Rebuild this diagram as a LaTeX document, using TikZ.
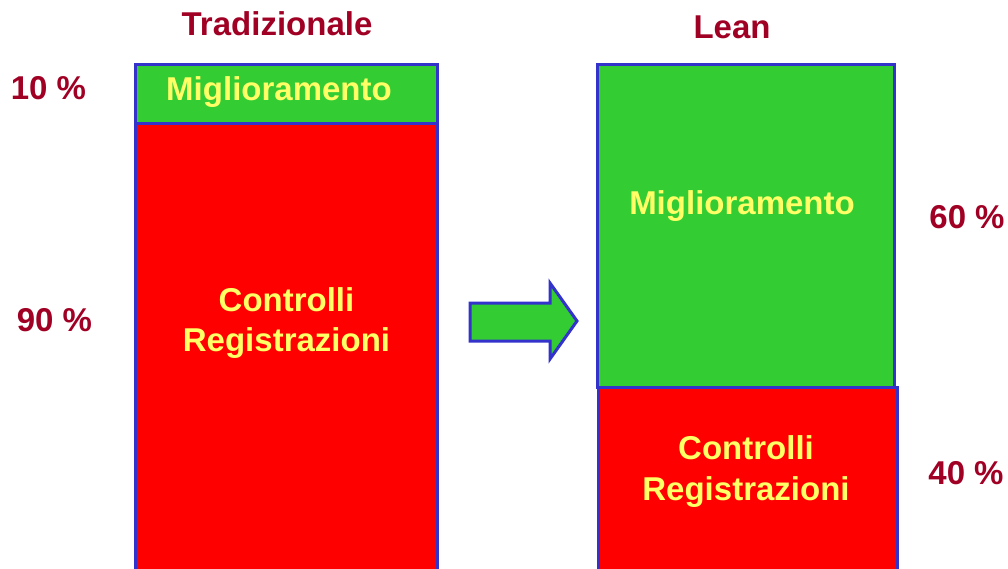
\documentclass[tikz,border=0pt]{standalone}
\usepackage{fontspec}
\setmainfont{Liberation Sans}
\definecolor{boxgreen}{HTML}{33CC33}
\definecolor{boxred}{HTML}{FF0000}
\definecolor{edgeblue}{HTML}{3333CC}
\definecolor{txtyellow}{HTML}{FFFF66}
\definecolor{darkred}{HTML}{A00024}
\begin{document}
\begin{tikzpicture}[x=1pt,y=-1pt,
  box/.style={draw=edgeblue,line width=3pt,inner sep=0pt,anchor=north west},
  lbl/.style={font=\fontsize{33}{40}\bfseries\selectfont,text=txtyellow,anchor=base,inner sep=0pt},
  pct/.style={font=\fontsize{33}{40}\bfseries\selectfont,text=darkred,anchor=base,inner sep=0pt},
  bigarrow/.style={draw=edgeblue,fill=boxgreen,line width=3pt,line join=miter}]
\useasboundingbox (0,0) rectangle (1008,568);
\clip (0,0) rectangle (1008,568);
% left column
\node[box,fill=boxred,minimum width=302pt,minimum height=480pt] (tred) at (134,122) {};
\node[box,fill=boxgreen,minimum width=302pt,minimum height=59pt] (tgreen) at (134,63) {};
% right column
\node[box,fill=boxred,minimum width=299pt,minimum height=220pt] (lred) at (597,386) {};
\node[box,fill=boxgreen,minimum width=297pt,minimum height=323pt] (lgreen) at (596,63) {};
% arrow
\draw[bigarrow] (470,303) -- (550,303) -- (550,283) -- (577,321) -- (550,359) -- (550,341) -- (470,341) -- cycle;
% titles
\node[pct] (ttrad) at (277,35) {Tradizionale};
\node[pct] (tlean) at (732,38) {Lean};
% percentages
\node[pct] (p10) at (48.5,99) {10 \%};
\node[pct] (p90) at (54.5,331) {90 \%};
\node[pct] (p60) at (967,228) {60 \%};
\node[pct] (p40) at (966,484) {40 \%};
% labels
\node[lbl] (tm) at (279,100) {Miglioramento};
\node[lbl] (tc1) at (286.5,311) {Controlli};
\node[lbl] (tc2) at (286.5,351) {Registrazioni};
\node[lbl] (lm) at (742,214.5) {Miglioramento};
\node[lbl] (lc1) at (746,459) {Controlli};
\node[lbl] (lc2) at (746,500) {Registrazioni};
\end{tikzpicture}
\end{document}
